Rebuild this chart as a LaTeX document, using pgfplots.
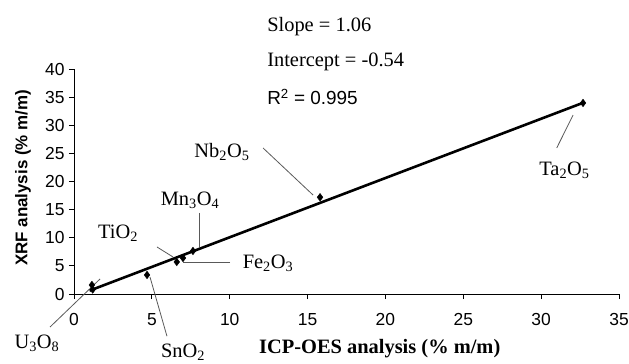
\documentclass[border=0pt]{standalone}
\usepackage{fontspec}
\setmainfont{Liberation Serif}
\setsansfont{Liberation Sans}
\usepackage{pgfplots}
\pgfplotsset{compat=1.18}
\begin{document}
\begin{tikzpicture}
\begin{axis}[
  scale only axis,
  width=545bp, height=225bp,
  xmin=0, xmax=35, ymin=0, ymax=40,
  axis x line=bottom, axis y line=left,
  axis line style={-, black, line width=0.9bp},
  xtick={0,5,...,35}, ytick={0,5,...,40},
  tick align=outside,
  major tick length=5bp,
  tick style={black, line width=0.9bp},
  /pgf/number format/assume math mode=true,
  ticklabel style={font=\sffamily\fontsize{17.5}{17.5}\selectfont},
  xticklabel style={yshift=-11bp},
  yticklabel style={xshift=-1bp},
  xlabel={\bfseries ICP-OES analysis (\% m/m)},
  ylabel={\sffamily\bfseries XRF analysis (\% m/m)},
  xlabel style={font=\fontsize{20.5}{20.5}\selectfont, at={(axis description cs:0.561,-0.244)}, anchor=center},
  ylabel style={font=\fontsize{17}{17}\selectfont, at={(axis description cs:-0.0936,0.516)}, anchor=center},
  clip=false,
]
% regression line
\addplot[black, line width=2.6bp] coordinates {(1.0,0.6) (32.7,34.0)};
% data points
\addplot[only marks, mark=diamond*, mark size=3.8bp, black] coordinates {
  (1.15,1.6) (1.2,0.8) (4.69,3.38) (6.6,5.7) (7.0,6.4) (7.64,7.65) (15.8,17.2) (32.69,33.96)
};
% leader lines
\addplot[black!65, line width=0.8bp] coordinates {(-1.54,-5.87) (1.67,2.67)};
\addplot[black!65, line width=0.8bp] coordinates {(5.97,-7.5) (4.88,3.02)};
\addplot[black!65, line width=0.8bp] coordinates {(5.33,8.36) (6.36,6.58)};
\addplot[black!65, line width=0.8bp] coordinates {(8.03,14.4) (8.03,8.36)};
\addplot[black!65, line width=0.8bp] coordinates {(10.02,5.69) (7.0,5.69)};
\addplot[black!65, line width=0.8bp] coordinates {(12.14,25.96) (15.35,17.6)};
\addplot[black!65, line width=0.8bp] coordinates {(32.05,31.8) (31.0,25.96)};
% labels
\begin{scope}[every node/.style={font=\fontsize{20.5}{20.5}\selectfont, inner sep=0pt}]
\node at (axis cs:-2.38,-8.7) {U\textsubscript{3}O\textsubscript{8}};
\node at (axis cs:7.0,-10.3) {SnO\textsubscript{2}};
\node at (axis cs:2.83,10.8) {TiO\textsubscript{2}};
\node at (axis cs:7.45,16.7) {Mn\textsubscript{3}O\textsubscript{4}};
\node at (axis cs:12.46,5.5) {Fe\textsubscript{2}O\textsubscript{3}};
\node at (axis cs:9.5,25.2) {Nb\textsubscript{2}O\textsubscript{5}};
\node at (axis cs:31.5,22.0) {Ta\textsubscript{2}O\textsubscript{5}};
\node[anchor=west] at (axis cs:12.4,47.5) {Slope = 1.06};
\node[anchor=west] at (axis cs:12.4,41.2) {Intercept = -0.54};
\node[anchor=west] at (axis cs:12.4,35.0) {\sffamily\fontsize{19}{19}\selectfont R\textsuperscript{2} = 0.995};
\end{scope}
\end{axis}
\pgfresetboundingbox
\path[use as bounding box] (-74bp,-70bp) rectangle (555bp,294bp);
\end{tikzpicture}
\end{document}
